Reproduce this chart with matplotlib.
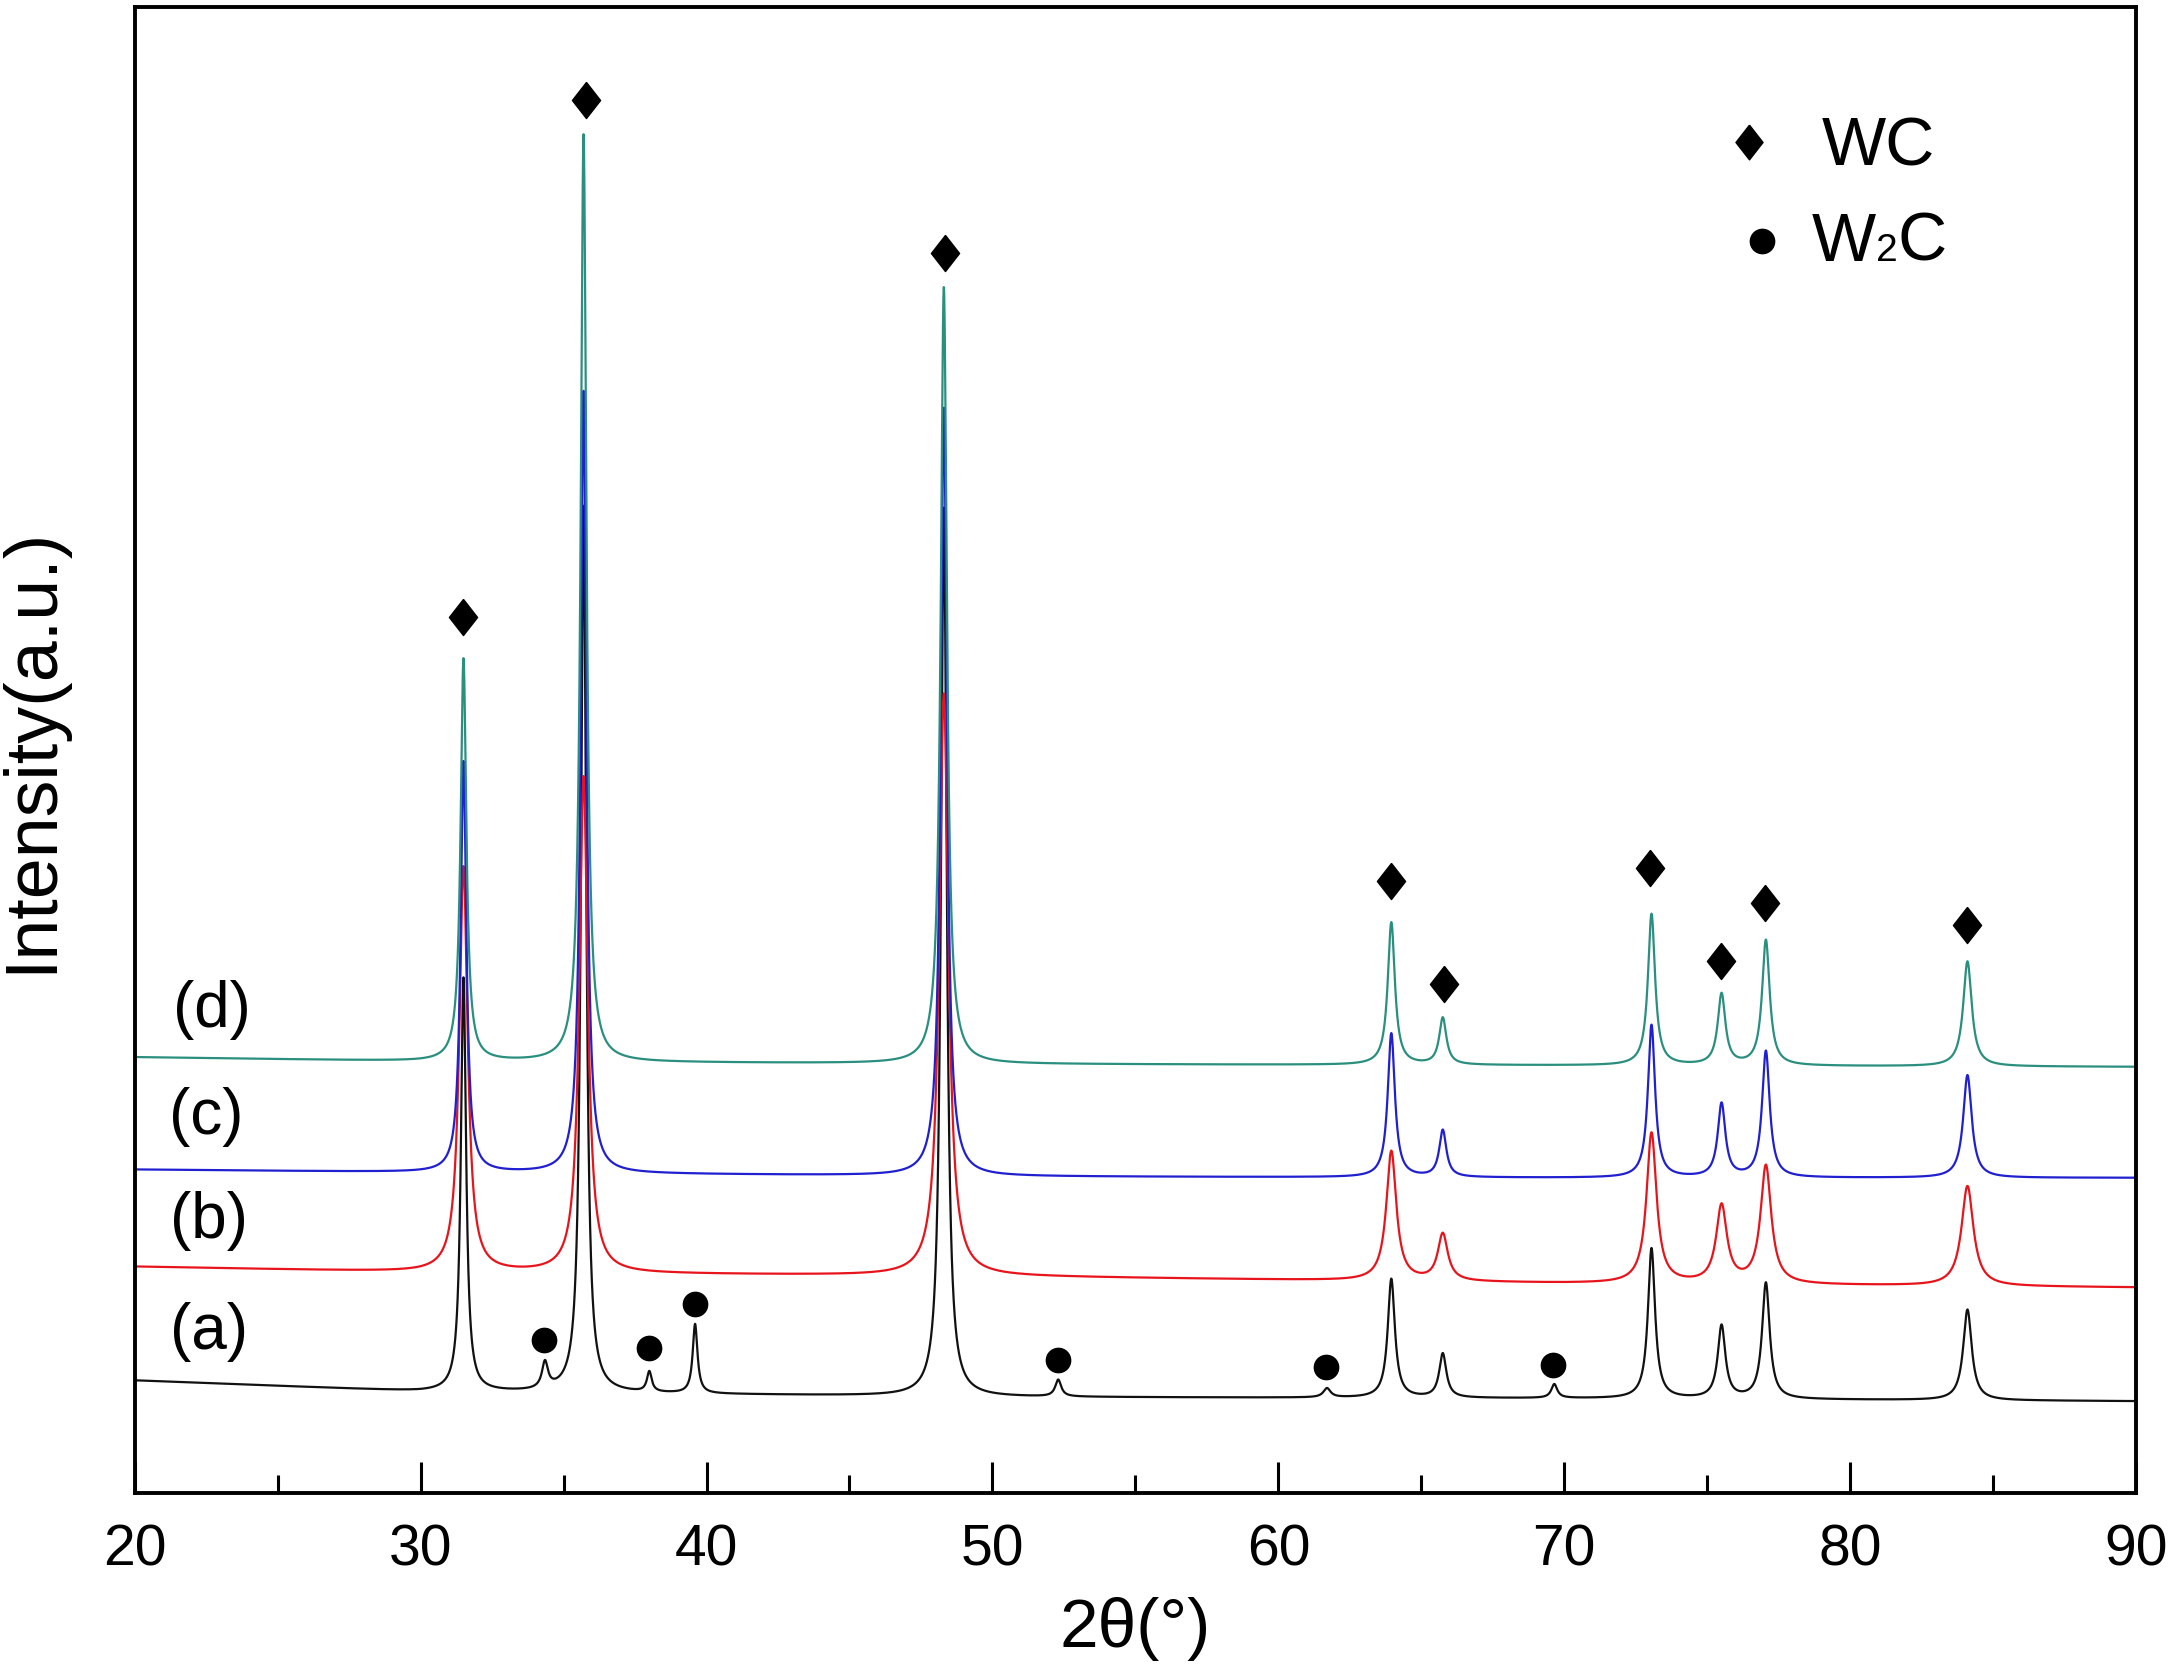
import numpy as np
import matplotlib
matplotlib.use('Agg')
from matplotlib import pyplot as plt
from matplotlib.ticker import MultipleLocator
from matplotlib.offsetbox import TextArea, HPacker, AnnotationBbox

plt.rcParams['font.family'] = ['Liberation Sans', 'DejaVu Sans']

# --- data (intensity in a.u.) ---
# background level of each pattern at a few angles
bg_angles = [20, 30, 50, 70, 90]
bg_a = [81, 73, 69, 68, 66]
bg_b = [163, 159, 156, 151, 148]
bg_c = [233, 231, 228, 227, 227]
bg_d = [314, 311, 309, 308, 307]

# WC reflections: position, apex level for each pattern
wc_pos = [31.5, 35.7, 48.3, 63.95, 65.75, 73.05, 75.5, 77.05, 84.1]
apex_a = [371, 711, 710, 154, 100, 176, 120, 151, 132]
apex_b = [451, 516, 576, 246, 186, 259, 206, 235, 221]
apex_c = [527, 794, 782, 331, 261, 337, 280, 318, 301]
apex_d = [601, 979, 869, 411, 342, 417, 359, 398, 383]
# peak widths (FWHM, deg)
fwhm_a = [0.22, 0.22, 0.24, 0.30, 0.30, 0.30, 0.32, 0.32, 0.36]
fwhm_b = [0.35, 0.35, 0.38, 0.42, 0.42, 0.42, 0.45, 0.45, 0.50]
fwhm_c = [0.24, 0.24, 0.26, 0.30, 0.30, 0.30, 0.32, 0.32, 0.36]
fwhm_d = [0.24, 0.24, 0.26, 0.30, 0.30, 0.30, 0.32, 0.32, 0.36]

# W2C reflections, only in pattern (a)
w2c_pos = [34.35, 38.0, 39.6, 52.3, 61.7, 69.65]
w2c_apex = [91, 86, 121, 81, 75, 78]
w2c_fwhm = [0.25, 0.2, 0.2, 0.25, 0.3, 0.25]

# phase marker positions (angle, level)
wc_mark_x = [31.5, 35.8, 48.33, 63.93, 65.8, 73.0, 75.48, 77.03, 84.08]
wc_mark_y = [631, 1004, 894, 441, 367, 450, 383, 425, 409]
w2c_mark_x = [34.31, 38.0, 39.6, 52.3, 61.65, 69.6]
w2c_mark_y = [110, 104, 136, 96, 91, 92]

labels = ['(a)', '(b)', '(c)', '(d)']
label_x = [22.6, 22.6, 22.5, 22.7]
label_y = [116, 196, 271, 348]
colors = ['#111111', '#e8141c', '#2020d0', '#2a8f7e']

tt = np.linspace(20, 90, 14001)


def pattern(bg, pos, apex, fwhm):
    base = np.interp(tt, bg_angles, bg)
    y = base.copy()
    for p, a, w in zip(pos, apex, fwhm):
        h = a - np.interp(p, bg_angles, bg)
        y += h / (1 + ((tt - p) / (w / 2)) ** 2)
    return y


ya = pattern(bg_a, wc_pos + w2c_pos, apex_a + w2c_apex, fwhm_a + w2c_fwhm)
yb = pattern(bg_b, wc_pos, apex_b, fwhm_b)
yc = pattern(bg_c, wc_pos, apex_c, fwhm_c)
yd = pattern(bg_d, wc_pos, apex_d, fwhm_d)

fig = plt.figure(figsize=(21.72, 16.69), dpi=100)
ax = fig.add_axes([0.062, 0.1056, 0.9215, 0.8902])

for y, c in zip([ya, yb, yc, yd], colors):
    ax.plot(tt, y, '-', color=c, lw=1.6)

diamond = [(0, 1), (0.78, 0), (0, -1), (-0.78, 0), (0, 1)]
ax.plot(wc_mark_x, wc_mark_y, linestyle='none', marker=diamond,
        ms=26, color='black')
ax.plot(w2c_mark_x, w2c_mark_y, linestyle='none', marker='o',
        ms=17.5, color='black')

for lab, lx, ly in zip(labels, label_x, label_y):
    ax.text(lx, ly, lab, fontsize=46, ha='center', va='center')

# phase key
ax.plot([76.47], [974], linestyle='none', marker=diamond, ms=25, color='black')
ax.plot([76.9], [902], linestyle='none', marker='o', ms=17.5, color='black')
ax.text(78.99, 970, 'WC', fontsize=49, va='center', ha='left')
w2c_txt = HPacker(children=[TextArea('W', textprops=dict(fontsize=49)),
                            TextArea('2', textprops=dict(fontsize=28)),
                            TextArea('C', textprops=dict(fontsize=49))],
                  align='baseline', pad=0, sep=0)
ax.add_artist(AnnotationBbox(w2c_txt, (78.65, 901), xycoords='data',
                             box_alignment=(0, 0.5), frameon=False, pad=0))

ax.set_xlim(20, 90)
ax.set_ylim(0, 1071)
ax.xaxis.set_major_locator(MultipleLocator(10))
ax.xaxis.set_minor_locator(MultipleLocator(5))
ax.tick_params(axis='x', which='both', direction='in', top=False,
               labelsize=41, pad=22, width=2.2)
ax.tick_params(axis='x', which='major', length=22)
ax.tick_params(axis='x', which='minor', length=13)
ax.set_yticks([])
for s in ax.spines.values():
    s.set_linewidth(2.8)

ax.set_xlabel('2θ(°)', fontsize=50, labelpad=14)
ax.set_ylabel('Intensity(a.u.)', fontsize=53)
ax.yaxis.set_label_coords(-0.034, 0.5)

fig.savefig('out.png', dpi=100)
